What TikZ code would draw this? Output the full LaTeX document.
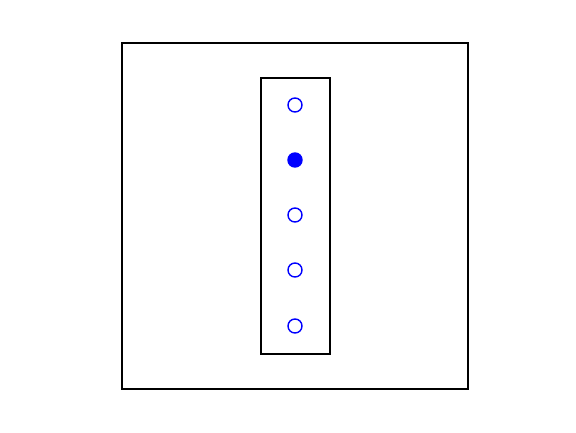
\documentclass[tikz,border=0pt]{standalone}
\usepackage{tikz}

\tikzset{
  frame/.style={draw=black, line width=1.7pt},
  strip/.style={draw=black, line width=1.3pt},
  hole/.style={circle, draw=blue, line width=1.4pt, minimum size=14pt, inner sep=0pt},
  hit/.style={hole, fill=blue}
}

\begin{document}
\begin{tikzpicture}[x=1pt,y=-1pt]
    \useasboundingbox (0,0) rectangle (576,432);
    \draw[frame] (122,43) rectangle (468,389);
    \draw[strip] (261,78) rectangle (330,354);
    \node[hole] (h1) at (295,105) {};
    \node[hit]  (h2) at (295,160) {};
    \node[hole] (h3) at (295,215) {};
    \node[hole] (h4) at (295,270) {};
    \node[hole] (h5) at (295,326) {};
\end{tikzpicture}
\end{document}
